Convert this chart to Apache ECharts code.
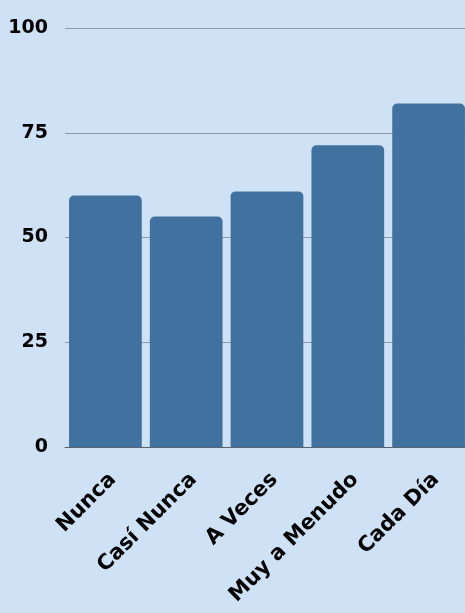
<!DOCTYPE html>
<html><head><meta charset="utf-8">
<script src="https://cdn.jsdelivr.net/npm/echarts@6/dist/echarts.min.js"></script>
<style>html,body{margin:0;padding:0;background:#cfe1f4;overflow:hidden}#c{width:469px;height:613px}</style>
</head><body><div id="c"></div>
<script>
const categories = ['Nunca', 'Casí Nunca', 'A Veces', 'Muy a Menudo', 'Cada Día'];
const values = [60, 55, 61, 72, 82];
const yTicks = [0, 25, 50, 75, 100];

const chart = echarts.init(document.getElementById('c'));
chart.setOption({
  backgroundColor: '#cfe1f4',
  animation: false,
  grid: { left: 65, right: 0, top: 28, bottom: 166 },
  xAxis: {
    type: 'category', data: categories,
    axisLine: { show: true, lineStyle: { color: '#5a6470', width: 1 } },
    axisTick: { show: false },
    axisLabel: { rotate: 45, interval: 0, margin: 22, verticalAlign: 'top', color: '#000',
      fontFamily: 'DejaVu Sans', fontWeight: 'bold', fontSize: 21 }
  },
  yAxis: {
    type: 'value', min: 0, max: 100, interval: 25,
    axisLine: { show: false }, axisTick: { show: false },
    splitLine: { lineStyle: { color: '#8e9bab', width: 1 } },
    axisLabel: { margin: 17, color: '#000', fontFamily: 'DejaVu Sans', fontWeight: 'bold', fontSize: 19,
      formatter: v => yTicks.includes(v) ? String(v) : '' }
  },
  series: [{
    type: 'bar', data: values, barCategoryGap: '10%',
    itemStyle: { color: '#41729f', borderRadius: [5, 5, 0, 0] }
  }]
});
</script></body></html>
